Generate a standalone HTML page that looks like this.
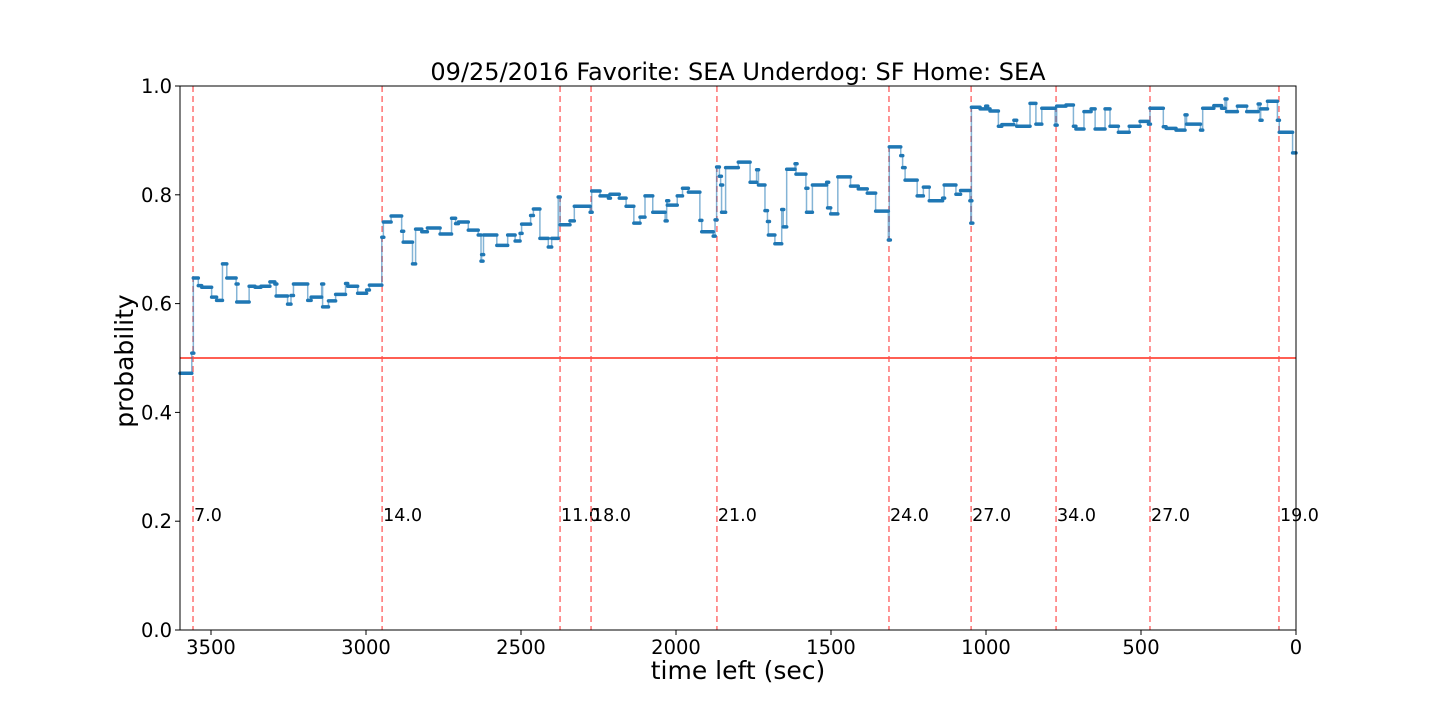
<!DOCTYPE html>
<html><head><meta charset="utf-8">
<style>
html,body{margin:0;padding:0;background:#fff;}
svg{display:block;font-family:"DejaVu Sans","Liberation Sans",sans-serif;}
</style></head>
<body>
<svg id="chart" width="1440" height="720" xmlns="http://www.w3.org/2000/svg">
<rect width="1440" height="720" fill="#fff"/>
<text x="738" y="80" font-size="24" text-anchor="middle">09/25/2016 Favorite: SEA Underdog: SF Home: SEA</text>
<g id="plot"></g>
<text x="738" y="679" font-size="25" text-anchor="middle">time left (sec)</text>
<text transform="translate(133,361) rotate(-90)" font-size="25" text-anchor="middle">probability</text>
</svg>
<script>
const times = [3600,3562,3557,3541,3530,3498,3482,3463,3449,3419,3417,3377,3358,3339,3310,3294,3290,3253,3242,3234,3188,3177,3143,3140,3121,3098,3066,3059,3027,2998,2989,2949,2944,2919,2885,2880,2850,2840,2820,2802,2761,2724,2711,2702,2670,2638,2629,2627,2621,2578,2543,2519,2503,2498,2469,2460,2439,2412,2401,2380,2374,2342,2328,2277,2272,2245,2218,2213,2183,2161,2136,2116,2100,2075,2035,2030,2028,1996,1979,1960,1923,1917,1880,1874,1869,1860,1856,1853,1840,1799,1761,1740,1734,1713,1705,1702,1681,1659,1654,1643,1616,1613,1581,1579,1560,1514,1511,1501,1478,1437,1412,1383,1356,1315,1312,1275,1269,1261,1222,1202,1183,1140,1135,1097,1082,1052,1049,1047,1019,1001,998,987,960,949,910,901,858,839,820,777,772,742,718,710,684,661,648,616,600,573,538,503,476,471,428,419,387,358,353,308,301,265,240,229,224,189,159,122,116,114,92,60,54,11];
const probs = [0.472,0.509,0.647,0.633,0.630,0.612,0.606,0.673,0.647,0.636,0.603,0.632,0.630,0.632,0.640,0.636,0.614,0.599,0.615,0.636,0.606,0.612,0.636,0.594,0.605,0.617,0.637,0.632,0.619,0.625,0.634,0.722,0.750,0.761,0.733,0.713,0.673,0.737,0.732,0.739,0.728,0.757,0.747,0.750,0.735,0.726,0.678,0.690,0.726,0.707,0.726,0.715,0.729,0.746,0.762,0.774,0.720,0.704,0.720,0.796,0.745,0.752,0.779,0.768,0.807,0.798,0.794,0.801,0.794,0.779,0.748,0.759,0.798,0.768,0.752,0.789,0.781,0.798,0.812,0.805,0.753,0.732,0.724,0.754,0.851,0.834,0.818,0.768,0.850,0.860,0.823,0.846,0.818,0.771,0.751,0.726,0.710,0.773,0.741,0.847,0.857,0.838,0.812,0.768,0.818,0.823,0.776,0.765,0.833,0.816,0.811,0.803,0.770,0.717,0.888,0.872,0.850,0.827,0.798,0.814,0.789,0.794,0.818,0.801,0.808,0.789,0.748,0.961,0.958,0.963,0.958,0.954,0.926,0.929,0.937,0.926,0.968,0.930,0.959,0.928,0.963,0.965,0.926,0.921,0.953,0.958,0.921,0.958,0.926,0.915,0.926,0.935,0.930,0.959,0.925,0.922,0.919,0.947,0.930,0.919,0.959,0.964,0.959,0.976,0.953,0.963,0.953,0.967,0.937,0.958,0.972,0.937,0.915,0.877];
const scoreTimes = [3558,2948,2374,2274,1868,1313,1048,774,471,55];
const scoreLabels = ["7.0","14.0","11.0","18.0","21.0","24.0","27.0","34.0","27.0","19.0"];
const xTicks = [3500,3000,2500,2000,1500,1000,500,0];
const yTicks = [0.0,0.2,0.4,0.6,0.8,1.0];

const L=180,R=1296,T=86,B=630;
const xs = t => L + (3600 - t) / 3600 * (R - L);
const ys = p => B - p * (B - T);
const NS="http://www.w3.org/2000/svg";
const g=document.getElementById('plot');
function mk(tag,attrs,parent){const e=document.createElementNS(NS,tag);for(const k in attrs)e.setAttribute(k,attrs[k]);(parent||g).appendChild(e);return e;}

let ref=mk('line',{x1:L,x2:R,y1:ys(0.5),y2:ys(0.5),stroke:'#ff2a1a','stroke-width':1.5});



scoreTimes.forEach((t,i)=>{
  const ln=mk('line',{x1:xs(t),x2:xs(t),y1:T,y2:B,stroke:'#ff4d4d','stroke-opacity':0.8,'stroke-width':1.5,'stroke-dasharray':'6,4'});
  
  
  const tx=mk('text',{x:xs(t)+1,y:521,'font-size':17.5});
  tx.textContent=scoreLabels[i];
  
  
});

let d='';
for(let i=0;i<times.length;i++){
  const x0=xs(times[i]), x1=xs(i+1<times.length?times[i+1]:0), y=ys(probs[i]);
  d+=(i===0?'M':'L')+x0+','+y+'L'+x1+','+y;
}
const thin=mk('path',{d:d,fill:'none',stroke:'#1f77b4','stroke-opacity':0.55,'stroke-width':1.5});


for(let i=0;i<times.length;i++){
  const x0=xs(times[i]), x1=xs(i+1<times.length?times[i+1]:0), y=ys(probs[i]);
  const s=mk('line',{x1:x0,x2:Math.max(x1,x0+2),y1:y,y2:y,stroke:'#1f77b4','stroke-width':3.5,'stroke-linecap':'round'});
  
  
}

const fr=mk('rect',{x:L,y:T,width:R-L,height:B-T,fill:'none',stroke:'#000','stroke-width':1});



xTicks.forEach(v=>{
  mk('line',{x1:xs(v),x2:xs(v),y1:B,y2:B+5,stroke:'#000'});
  const t=mk('text',{x:xs(v),y:B+24,'font-size':19.5,'text-anchor':'middle'});
  t.textContent=v;
  
  
});
yTicks.forEach(v=>{
  mk('line',{x1:L-5,x2:L,y1:ys(v),y2:ys(v),stroke:'#000'});
  const t=mk('text',{x:L-8,y:ys(v)+7,'font-size':19.5,'text-anchor':'end'});
  t.textContent=v.toFixed(1);
  
  
});
</script>
</body></html>
